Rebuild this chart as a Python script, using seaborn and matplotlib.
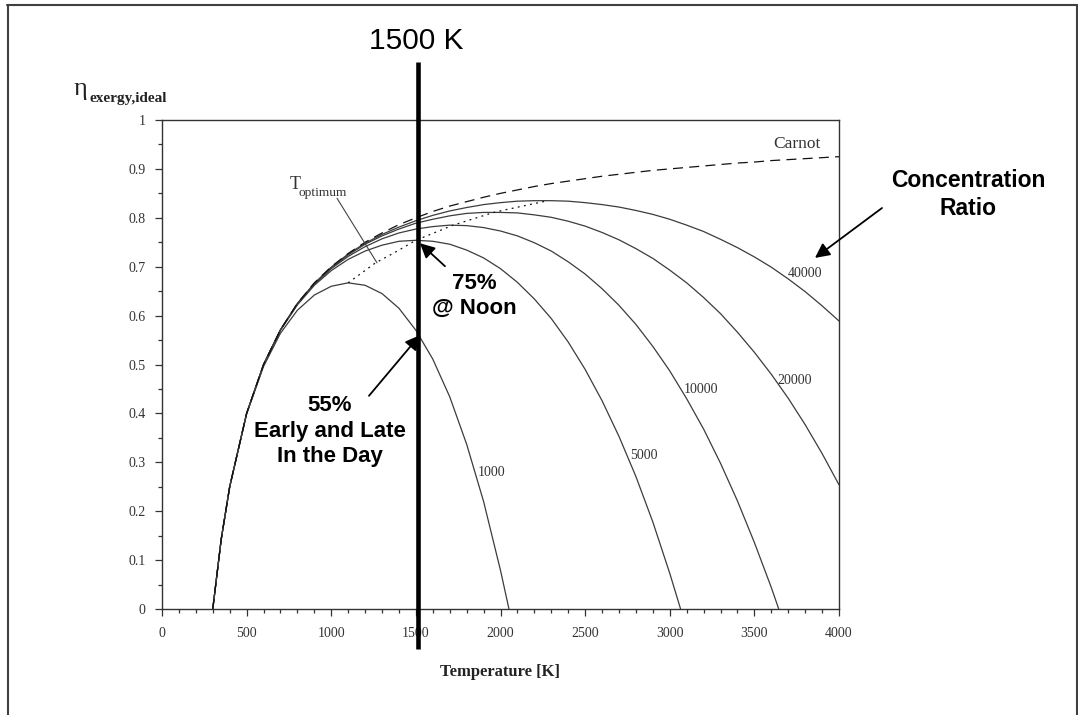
import matplotlib
matplotlib.use("Agg")
import numpy as np
import pandas as pd
import matplotlib.pyplot as plt
import seaborn as sns
from matplotlib.lines import Line2D
from matplotlib.ticker import MultipleLocator, FuncFormatter
import matplotlib.transforms as mtransforms

# ---------------- data ----------------
T_carnot = [300, 350, 400] + list(range(500, 4001, 100))
eta_carnot = [0, .143, .250, .400, .500, .571, .625, .667, .700, .727, .750, .769, .786,
              .800, .813, .824, .833, .842, .850, .857, .864, .870, .875,
              .880, .885, .889, .893, .897, .900, .903, .906, .909, .912,
              .914, .917, .919, .921, .923, .925]

T_1000 = [300, 350, 400] + list(range(500, 2001, 100)) + [2050]
eta_1000 = [0, .143, .250, .399, .496, .564, .611, .642, .660, .667, .662, .645, .615,
            .570, .511, .434, .337, .220, .079, 0.0]

T_5000 = [300, 350, 400] + list(range(500, 3001, 100)) + [3064]
eta_5000 = [0, .143, .250, .400, .499, .570, .622, .662, .692, .715, .732, .744, .752,
            .754, .752, .746, .734, .718, .696, .668, .634, .594, .546,
            .490, .426, .353, .271, .178, .073, 0.0]

T_10000 = [300, 350, 400] + list(range(500, 3601, 100)) + [3644]
eta_10000 = [0, .143, .250, .400, .500, .571, .624, .664, .696, .721, .741, .757, .769,
             .777, .782, .785, .784, .780, .773, .763, .749, .732, .710,
             .685, .655, .621, .582, .537, .487, .430, .368, .298, .221,
             .136, .044, 0.0]

T_20000 = [300, 350, 400] + list(range(500, 4001, 100))
eta_20000 = [0, .143, .250, .400, .500, .571, .624, .665, .698, .724, .746, .763, .777,
             .789, .797, .804, .809, .811, .811, .810, .806, .801, .793,
             .783, .770, .755, .737, .717, .693, .667, .637, .604, .566,
             .525, .480, .431, .377, .318, .254]

T_40000 = [300, 350, 400] + list(range(500, 4001, 100))
eta_40000 = [0, .143, .250, .400, .500, .571, .625, .666, .699, .726, .748, .766, .781,
             .794, .805, .814, .821, .827, .831, .834, .835, .835, .834,
             .831, .827, .822, .815, .807, .797, .785, .772, .756, .739,
             .720, .699, .675, .649, .620, .589]

T_opt = [1100, 1260, 1375, 1500, 1720, 1970, 2280]
eta_opt = [0.667, 0.7075, 0.729, 0.754, 0.785, 0.812, 0.835]

ratio_labels = ["1000", "5000", "10000", "20000", "40000"]
label_T = [1867, 2765, 3085, 3635, 3699]
label_eta = [0.280, 0.313, 0.448, 0.468, 0.687]

x_ticks = list(range(0, 4001, 500))
y_ticks = [0, 0.1, 0.2, 0.3, 0.4, 0.5, 0.6, 0.7, 0.8, 0.9, 1.0]
marker_T = 1500

# ---------------- build table ----------------
frames = []
for name, tt, ee in [("1000", T_1000, eta_1000), ("5000", T_5000, eta_5000),
                     ("10000", T_10000, eta_10000), ("20000", T_20000, eta_20000),
                     ("40000", T_40000, eta_40000), ("Carnot", T_carnot, eta_carnot),
                     ("T_optimum", T_opt, eta_opt)]:
    frames.append(pd.DataFrame({"T": tt, "eta": ee, "series": name}))
df = pd.concat(frames, ignore_index=True)

# ---------------- style ----------------
sns.set_theme(style="white")
serif = ["Liberation Serif", "DejaVu Serif"]
sans = ["Liberation Sans", "DejaVu Sans"]
plt.rcParams["font.family"] = serif

W, H, DPI = 1078, 715, 100
fig = plt.figure(figsize=(W / DPI, H / DPI), dpi=DPI)
fig.patch.set_facecolor("white")
L, R, TOP, BOT = 162, 839, 120, 609
ax = fig.add_axes([L / W, 1 - BOT / H, (R - L) / W, (BOT - TOP) / H])
ax.set_facecolor("white")

order = ["1000", "5000", "10000", "20000", "40000", "Carnot", "T_optimum"]
palette = {k: "#3c3c3c" for k in order}
palette["Carnot"] = "#111111"
palette["T_optimum"] = "#111111"
dashes = {k: "" for k in order}
dashes["Carnot"] = (8, 5)
dashes["T_optimum"] = (1.5, 3.5)

sns.lineplot(data=df, x="T", y="eta", hue="series", style="series",
             hue_order=order, style_order=order, palette=palette, dashes=dashes,
             estimator=None, sort=True, legend=False, linewidth=0.9, ax=ax)

ax.set_xlim(0, 4000)
ax.set_ylim(0, 1)
ax.set_xticks(x_ticks)
ax.set_yticks(y_ticks)
ax.xaxis.set_minor_locator(MultipleLocator(100))
ax.yaxis.set_minor_locator(MultipleLocator(0.05))
ax.yaxis.set_major_formatter(FuncFormatter(lambda v, p: f"{v:g}"))
ax.set_xlabel("")
ax.set_ylabel("")
ax.tick_params(which="both", direction="out", color="#333333", width=0.9)
ax.tick_params(which="major", length=5, labelsize=10, labelcolor="#333333")
ax.tick_params(which="minor", length=3)
ax.tick_params(axis="x", which="major", pad=8)
ax.tick_params(axis="y", which="major", pad=7)
ax.tick_params(bottom=True, left=True, which="both")
for t in ax.get_xticklabels() + ax.get_yticklabels():
    t.set_fontfamily(serif)
for s in ax.spines.values():
    s.set_visible(True)
    s.set_color("#333333")
    s.set_linewidth(1.0)

# curve labels
for lab, tx, ty in zip(ratio_labels, label_T, label_eta):
    ax.text(tx, ty, lab, ha="left", va="center", fontsize=10, color="#333333", family=serif)
ax.text(3752, 0.951, "Carnot", ha="center", va="center", fontsize=12.5, color="#333333", family=serif)
ax.text(756, 0.869, "T", ha="left", va="center", fontsize=13, color="#333333", family=serif)
ax.text(809, 0.851, "optimum", ha="left", va="center", fontsize=9.6, color="#333333", family=serif)
ax.annotate("", xy=(1270, 0.708), xytext=(1034, 0.840),
            arrowprops=dict(arrowstyle="-", color="#444444", lw=0.8, shrinkA=0, shrinkB=0))

# 1500 K marker line
blend = mtransforms.blended_transform_factory(ax.transData, fig.transFigure)
vline = Line2D([marker_T + 10, marker_T + 10], [1 - 62 / H, 1 - 649 / H], transform=blend,
               color="black", lw=3.3, solid_capstyle="butt", zorder=10)
fig.add_artist(vline)
fig.text(marker_T, 1 - 41 / H, f"{marker_T} K", transform=blend, ha="center", va="center",
         fontsize=21.5, family=sans, color="black")

# annotations
arrow_kw = dict(arrowstyle="-|>", color="black", lw=1.3, mutation_scale=22, shrinkA=0, shrinkB=0)
ax.annotate("", xy=(1524, 0.560), xytext=(1223, 0.436), arrowprops=arrow_kw, annotation_clip=False)
ax.annotate("", xy=(1524, 0.748), xytext=(1672, 0.701), arrowprops=arrow_kw, annotation_clip=False)
ax.annotate("", xy=(3858, 0.718), xytext=(4254, 0.820), arrowprops=arrow_kw, annotation_clip=False)

ax.text(993, 0.364, "55%\nEarly and Late\nIn the Day", ha="center", va="center",
        fontsize=16, fontweight="bold", family=sans, linespacing=1.3, color="black")
ax.text(1843, 0.640, "75%\n@ Noon", ha="center", va="center",
        fontsize=16, fontweight="bold", family=sans, linespacing=1.2, color="black")
ax.text(4762, 0.848, "Concentration\nRatio", ha="center", va="center",
        fontsize=16.5, fontweight="bold", family=sans, linespacing=1.3, color="black")

# axis titles
fig.text(500 / W, 1 - 672 / H, "Temperature [K]", ha="center", va="center",
         fontsize=12, fontweight="bold", family=serif, color="#222222")
fig.text(74 / W, 1 - 95 / H, "\u03b7", ha="left", va="baseline", fontsize=19,
         family=serif, color="#222222")
fig.text(89 / W, 1 - 102 / H, "exergy,ideal", ha="left", va="baseline", fontsize=11,
         fontweight="bold", family=serif, color="#222222")

# outer frame
frame_kw = dict(transform=fig.transFigure, color="#404040", lw=1.5)
fig.add_artist(Line2D([7.5 / W, 7.5 / W], [1 - 5 / H, 0], **frame_kw))
fig.add_artist(Line2D([7 / W, 1077 / W], [1 - 5 / H, 1 - 5 / H], **frame_kw))
fig.add_artist(Line2D([1077 / W, 1077 / W], [1 - 5 / H, 0], **frame_kw))

fig.savefig("out.png", dpi=DPI, facecolor="white")
